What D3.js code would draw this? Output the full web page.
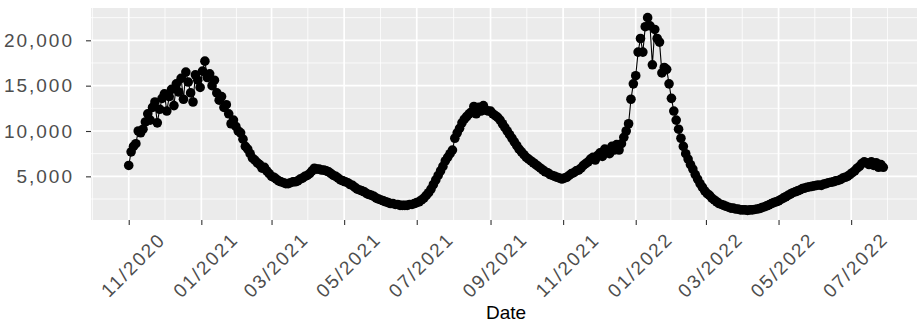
<!DOCTYPE html>
<html>
<head>
<meta charset="utf-8">
<script src="https://cdn.jsdelivr.net/npm/d3@7"></script>
<style>
  body { margin: 0; background: #fff; }
  svg { display: block; }
</style>
</head>
<body>
<div id="chart"></div>
<script>
// Daily counts, one reading every 2 days starting 2020-11-01
const START_DATE = "2020-11-01";
const STEP_DAYS = 2;
const cases = [
  // Nov 2020
  6200, 7700, 8300, 8600, 10000, 9800, 10200, 11000, 11900, 11200, 12600, 13200, 10900, 12400, 13600,
  // Dec 2020
  14100, 12200, 13800, 14600, 12800, 15200, 14300, 15800, 13500, 16500, 15400, 14200, 13200, 16200, 15600, 14800,
  // Jan 2021
  16600, 17700, 15900, 16300, 15000, 15600, 14200, 13400, 13800, 12600, 12900, 11900, 10800, 11200, 10500,
  // Feb 2021
  10000, 9800, 9100, 8300, 8000, 7500, 7000, 6800, 6500, 6300, 5900, 6000, 5600, 5300,
  // Mar 2021
  5000, 4900, 4700, 4500, 4400, 4300, 4200, 4200, 4300, 4400, 4400, 4500, 4700, 4800, 5000, 5100,
  // Apr 2021
  5300, 5600, 5900, 5800, 5800, 5700, 5700, 5600, 5500, 5300, 5100, 5000, 4800, 4600, 4500,
  // May 2021
  4400, 4300, 4100, 4000, 3800, 3600, 3500, 3400, 3300, 3100, 3000, 2900, 2800, 2600, 2500,
  // Jun 2021
  2400, 2300, 2200, 2100, 2000, 2000, 1900, 1900, 1800, 1800, 1800, 1800, 1900, 1900, 2000,
  // Jul 2021
  2100, 2200, 2400, 2600, 2900, 3200, 3600, 4100, 4600, 5100, 5600, 6100, 6700, 7100, 7500, 7900,
  // Aug 2021
  9200, 9800, 10300, 10900, 11300, 11600, 11900, 12100, 12700, 11900, 12600, 12200, 12800, 12300, 12200,
  // Sep 2021
  12200, 11900, 11700, 11500, 11200, 10800, 10400, 10000, 9600, 9200, 8800, 8400, 8000, 7700, 7400,
  // Oct 2021
  7100, 6900, 6700, 6500, 6300, 6100, 5900, 5700, 5500, 5400, 5200, 5100, 5000, 4900, 4800, 4700,
  // Nov 2021
  4800, 4900, 5100, 5300, 5400, 5600, 5700, 5900, 6200, 6400, 6600, 6900, 7100, 6800, 7300,
  // Dec 2021
  7600, 7200, 8000, 7800, 7500, 8300, 7900, 8500, 7900, 8600, 9300, 10000, 10800, 13500, 15200,
  // Jan 2022
  16100, 18700, 20200, 18700, 21500, 22500, 21600, 17300, 21200, 20200, 19800, 16400, 17000, 16800, 15200, 13600,
  // Feb 2022
  12200, 11200, 10200, 9200, 8300, 7500, 6900, 6300, 5800, 5200, 4700, 4200, 3800, 3400,
  // Mar 2022
  3100, 2900, 2600, 2400, 2200, 2000, 1900, 1800, 1700, 1600, 1500, 1500, 1400, 1400, 1300,
  // Apr 2022
  1300, 1300, 1250, 1300, 1300, 1350, 1400, 1450, 1550, 1650, 1750, 1850, 2000, 2100, 2200,
  // May 2022
  2300, 2450, 2600, 2750, 2900, 3050, 3200, 3300, 3400, 3500, 3650, 3700, 3800, 3850, 3900, 3950,
  // Jun 2022
  4000, 4050, 4000, 4150, 4200, 4300, 4350, 4400, 4500, 4550, 4650, 4800, 4900, 5000, 5200,
  // Jul 2022
  5400, 5600, 5900, 6100, 6400, 6600, 6500, 6300, 6600, 6200, 6500, 6000, 6300, 6000
];

const xTicks = ["2020-11-01", "2021-01-01", "2021-03-01", "2021-05-01", "2021-07-01", "2021-09-01",
                "2021-11-01", "2022-01-01", "2022-03-01", "2022-05-01", "2022-07-01"];
const yTicks = [5000, 10000, 15000, 20000];
const xTitle = "Date";

const WIDTH = 917;
const HEIGHT = 326;
const PANEL = { left: 91, right: 921, top: 8, bottom: 220 };

const parseDay = d3.timeParse("%Y-%m-%d");
const start = parseDay(START_DATE);
const data = cases.map((v, i) => ({ date: d3.timeDay.offset(start, i * STEP_DAYS), value: v }));
const majorDates = xTicks.map(parseDay);

// ggplot style 5% expansion on both axes
function expand(ext) {
  const pad = (ext[1] - ext[0]) * 0.05;
  return [ext[0] - pad, ext[1] + pad];
}

const xExt = d3.extent(data, d => +d.date);
const xScale = d3.scaleTime()
  .domain(expand(xExt).map(t => new Date(t)))
  .range([PANEL.left, PANEL.right]);

const yScale = d3.scaleLinear()
  .domain(expand(d3.extent(data, d => d.value)))
  .range([PANEL.bottom, PANEL.top]);

// minor breaks half way between the majors
const xMinor = [];
const firstGap = majorDates[1] - majorDates[0];
xMinor.push(new Date(+majorDates[0] - firstGap / 2));
for (let i = 0; i < majorDates.length - 1; i++) {
  xMinor.push(new Date((+majorDates[i] + +majorDates[i + 1]) / 2));
}
xMinor.push(new Date(+majorDates[majorDates.length - 1] + firstGap / 2));
const yMinor = [2500, 7500, 12500, 17500, 22500];

const svg = d3.select("#chart").append("svg")
  .attr("width", WIDTH)
  .attr("height", HEIGHT);

svg.append("defs").append("clipPath").attr("id", "panel-clip")
  .append("rect")
  .attr("x", PANEL.left).attr("y", PANEL.top)
  .attr("width", PANEL.right - PANEL.left)
  .attr("height", PANEL.bottom - PANEL.top);

const panel = svg.append("g").attr("clip-path", "url(#panel-clip)");

panel.append("rect")
  .attr("x", PANEL.left).attr("y", PANEL.top)
  .attr("width", PANEL.right - PANEL.left)
  .attr("height", PANEL.bottom - PANEL.top)
  .attr("fill", "#EBEBEB");

// grid
panel.selectAll(".y-minor").data(yMinor).enter().append("line")
  .attr("x1", PANEL.left).attr("x2", PANEL.right)
  .attr("y1", d => yScale(d)).attr("y2", d => yScale(d))
  .attr("stroke", "#fff").attr("stroke-width", 0.8);
panel.selectAll(".x-minor").data(xMinor).enter().append("line")
  .attr("x1", d => xScale(d)).attr("x2", d => xScale(d))
  .attr("y1", PANEL.top).attr("y2", PANEL.bottom)
  .attr("stroke", "#fff").attr("stroke-width", 0.8);
panel.selectAll(".y-major").data(yTicks).enter().append("line")
  .attr("x1", PANEL.left).attr("x2", PANEL.right)
  .attr("y1", d => yScale(d)).attr("y2", d => yScale(d))
  .attr("stroke", "#fff").attr("stroke-width", 1.7);
panel.selectAll(".x-major").data(majorDates).enter().append("line")
  .attr("x1", d => xScale(d)).attr("x2", d => xScale(d))
  .attr("y1", PANEL.top).attr("y2", PANEL.bottom)
  .attr("stroke", "#fff").attr("stroke-width", 1.7);

// line + points
const line = d3.line()
  .x(d => xScale(d.date))
  .y(d => yScale(d.value));

panel.append("path")
  .datum(data)
  .attr("d", line)
  .attr("fill", "none")
  .attr("stroke", "#000")
  .attr("stroke-width", 1.1);

panel.selectAll(".pt").data(data).enter().append("circle")
  .attr("class", "pt")
  .attr("cx", d => xScale(d.date))
  .attr("cy", d => yScale(d.value))
  .attr("r", 4.8)
  .attr("fill", "#000");

// axes
const xAxis = svg.append("g")
  .attr("transform", `translate(0, ${PANEL.bottom})`)
  .call(d3.axisBottom(xScale)
    .tickValues(majorDates)
    .tickFormat(d3.timeFormat("%m/%Y"))
    .tickSizeOuter(0)
    .tickSize(5));
xAxis.select(".domain").remove();
xAxis.selectAll(".tick line").attr("stroke", "#333").attr("stroke-width", 1.1);
xAxis.selectAll(".tick text")
  .attr("x", null).attr("y", null).attr("dy", null)
  .attr("text-anchor", "middle")
  .attr("dominant-baseline", "central")
  .attr("transform", "translate(4, 45) rotate(-45)")
  .attr("fill", "#4D4D4D")
  .style("font-family", "'Liberation Sans', Arial, sans-serif")
  .style("font-size", "19px")
  .style("letter-spacing", "2px");

const yAxis = svg.append("g")
  .attr("transform", `translate(${PANEL.left}, 0)`)
  .call(d3.axisLeft(yScale)
    .tickValues(yTicks)
    .tickFormat(d3.format(","))
    .tickSizeOuter(0)
    .tickSize(5)
    .tickPadding(12));
yAxis.select(".domain").remove();
yAxis.selectAll(".tick line").attr("stroke", "#333").attr("stroke-width", 1.1);
yAxis.selectAll(".tick text")
  .attr("fill", "#4D4D4D")
  .style("font-family", "'Liberation Sans', Arial, sans-serif")
  .style("font-size", "19px")
  .style("letter-spacing", "2px");

svg.append("text")
  .attr("x", (PANEL.left + PANEL.right) / 2)
  .attr("y", 319)
  .attr("text-anchor", "middle")
  .attr("fill", "#000")
  .style("font-family", "'Liberation Sans', Arial, sans-serif")
  .style("font-size", "19px")
  .text(xTitle);
</script>
</body>
</html>
